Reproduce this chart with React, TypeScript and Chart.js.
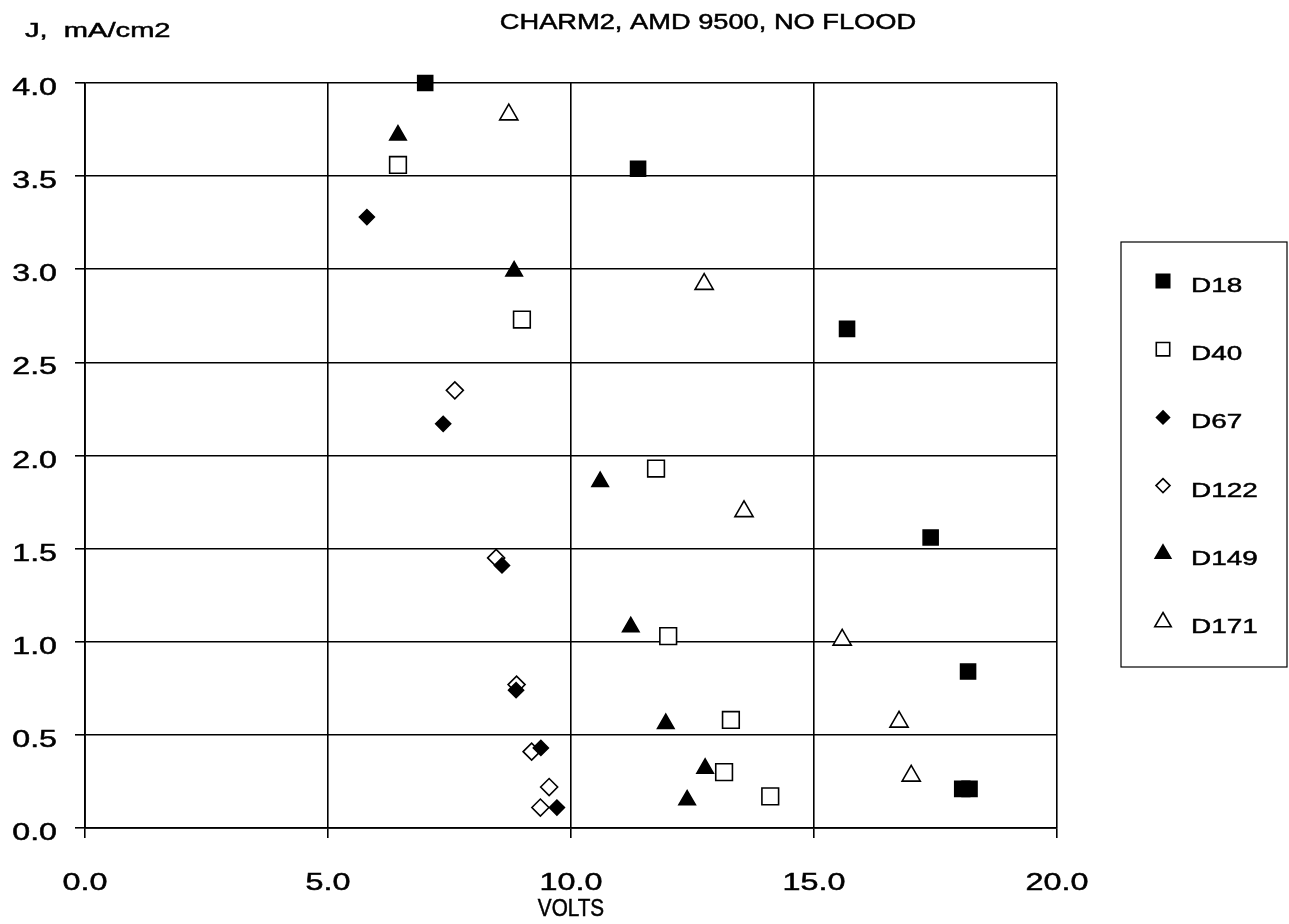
import React, { useEffect, useRef } from "react";
import { Chart, registerables } from "chart.js";

Chart.register(...registerables);

const TITLE = "CHARM2, AMD 9500, NO FLOOD";
const Y_LABEL = "J,  mA/cm2";
const X_LABEL = "VOLTS";

const seriesNames = ["D18", "D40", "D67", "D122", "D149", "D171"];

const d18X = [7.0, 11.38, 15.68, 17.4, 18.17, 18.05, 18.2];
const d18Y = [4.0, 3.54, 2.68, 1.56, 0.84, 0.21, 0.21];

const d40X = [6.44, 8.99, 11.75, 12.0, 13.29, 13.15, 14.1];
const d40Y = [3.56, 2.73, 1.93, 1.03, 0.58, 0.3, 0.17];

const d67X = [5.8, 7.37, 8.58, 8.87, 9.38, 9.71];
const d67Y = [3.28, 2.17, 1.41, 0.74, 0.43, 0.11];

const d122X = [7.61, 8.46, 8.88, 9.19, 9.55, 9.37];
const d122Y = [2.35, 1.45, 0.77, 0.41, 0.22, 0.11];

const d149X = [6.44, 8.83, 10.6, 11.23, 11.95, 12.76, 12.39];
const d149Y = [3.72, 2.99, 1.86, 1.08, 0.56, 0.32, 0.15];

const d171X = [8.72, 12.74, 13.56, 15.58, 16.75, 17.0];
const d171Y = [3.83, 2.92, 1.7, 1.01, 0.57, 0.28];

const seriesX = [d18X, d40X, d67X, d122X, d149X, d171X];
const seriesY = [d18Y, d40Y, d67Y, d122Y, d149Y, d171Y];
const pointStyles = ["rect", "rect", "rectRot", "rectRot", "triangle", "triangle"];
const filled = [true, false, true, false, true, false];
const radii = [10.6, 11.8, 7.5, 8.5, 9.5, 10.5];
const legendRadii = [9.5, 9.5, 6.5, 7, 9, 9.5];

const FONT = "'Liberation Sans', Arial, Helvetica, sans-serif";

function drawMarker(ctx: CanvasRenderingContext2D, style: string, x: number, y: number, r: number, fill: boolean) {
  ctx.beginPath();
  if (style === "rect") {
    const s = r * Math.SQRT1_2;
    ctx.rect(x - s, y - s, 2 * s, 2 * s);
  } else if (style === "rectRot") {
    ctx.moveTo(x, y - r);
    ctx.lineTo(x + r, y);
    ctx.lineTo(x, y + r);
    ctx.lineTo(x - r, y);
    ctx.closePath();
  } else {
    const a = (Math.PI * 2) / 3;
    ctx.moveTo(x, y - r);
    ctx.lineTo(x + Math.sin(a) * r, y - Math.cos(a) * r);
    ctx.lineTo(x - Math.sin(a) * r, y - Math.cos(a) * r);
    ctx.closePath();
  }
  ctx.fillStyle = fill ? "#000" : "#fff";
  ctx.fill();
  ctx.lineWidth = 1.6;
  ctx.strokeStyle = "#000";
  ctx.stroke();
}

function stretchedText(
  ctx: CanvasRenderingContext2D,
  text: string,
  x: number,
  baseline: number,
  size: number,
  sx: number,
  align: CanvasTextAlign
) {
  ctx.save();
  ctx.translate(x, baseline);
  ctx.scale(sx, 1);
  ctx.font = `${size}px ${FONT}`;
  ctx.textAlign = align;
  ctx.textBaseline = "alphabetic";
  ctx.fillStyle = "#000";
  ctx.strokeStyle = "#000";
  ctx.lineWidth = 0.5;
  ctx.fillText(text, 0, 0);
  ctx.strokeText(text, 0, 0);
  ctx.restore();
}

const textPlugin = {
  id: "textPlugin",
  afterDraw(chart: any) {
    const ctx: CanvasRenderingContext2D = chart.ctx;
    const area = chart.chartArea;
    const xs = chart.scales.x;
    const ys = chart.scales.y;

    // tick labels, positioned by the library's scales
    xs.ticks.forEach((t: any) => {
      const px = xs.getPixelForValue(t.value);
      stretchedText(ctx, Number(t.value).toFixed(1), px, 890, 24.5, 1.32, "center");
    });
    ys.ticks.forEach((t: any) => {
      const py = ys.getPixelForValue(t.value);
      stretchedText(ctx, Number(t.value).toFixed(1), area.left - 28, py + 12, 23.3, 1.38, "right");
    });

    stretchedText(ctx, TITLE, area.left + 623, 28.5, 21.8, 1.25, "center");
    stretchedText(ctx, Y_LABEL, 25, 37, 20.5, 1.42, "left");
    stretchedText(ctx, X_LABEL, (area.left + area.right) / 2, 916, 23, 0.9, "center");

    // legend
    const lx = area.right + 64;
    const ly = 242;
    const lw = 166;
    const lh = 425;
    ctx.save();
    ctx.lineWidth = 1.2;
    ctx.strokeStyle = "#000";
    ctx.strokeRect(lx, ly, lw, lh);
    ctx.restore();
    const step = 68.2;
    seriesNames.forEach((name, i) => {
      const base = 292 + i * step;
      drawMarker(ctx, pointStyles[i], lx + 42, base - 11, legendRadii[i], filled[i]);
      stretchedText(ctx, name, lx + 70, base, 20.5, 1.36, "left");
    });
  },
};

export default function App() {
  const ref = useRef<HTMLCanvasElement | null>(null);
  useEffect(() => {
    if (!ref.current) return;
    const datasets = seriesNames.map((name, i) => ({
      label: name,
      data: seriesX[i].map((x, j) => ({ x, y: seriesY[i][j] })),
      pointStyle: pointStyles[i],
      pointRadius: radii[i],
      pointHoverRadius: radii[i],
      pointBackgroundColor: filled[i] ? "#000" : "#fff",
      pointBorderColor: "#000",
      pointBorderWidth: 1.6,
      showLine: false,
      clip: false,
    }));
    const chart = new Chart(ref.current, {
      type: "scatter",
      data: { datasets },
      options: {
        animation: false,
        responsive: false,
        maintainAspectRatio: false,
        layout: { padding: { left: 0, top: 83, right: 232, bottom: 0 } },
        plugins: {
          legend: { display: false },
          title: { display: false },
          tooltip: { enabled: false },
        },
        scales: {
          x: {
            type: "linear",
            min: 0,
            max: 20,
            afterFit: (s: any) => {
              s.height = 96;
            },
            ticks: {
              stepSize: 5,
              display: false,
            },
            grid: { color: "#000", lineWidth: 1.6, tickLength: 10 },
            border: { color: "#000", width: 1.8 },
          },
          y: {
            type: "linear",
            min: 0,
            max: 4,
            afterFit: (s: any) => {
              s.width = 85;
            },
            ticks: {
              stepSize: 0.5,
              display: false,
            },
            grid: { color: "#000", lineWidth: 1.6, tickLength: 10 },
            border: { color: "#000", width: 1.8 },
          },
        },
      },
      plugins: [textPlugin],
    });
    return () => chart.destroy();
  }, []);
  return (
    <div style={{ position: "absolute", left: 0, top: 0, width: 1289, height: 924, background: "#fff" }}>
      <canvas ref={ref} width={1289} height={924} style={{ width: 1289, height: 924 }} />
    </div>
  );
}
